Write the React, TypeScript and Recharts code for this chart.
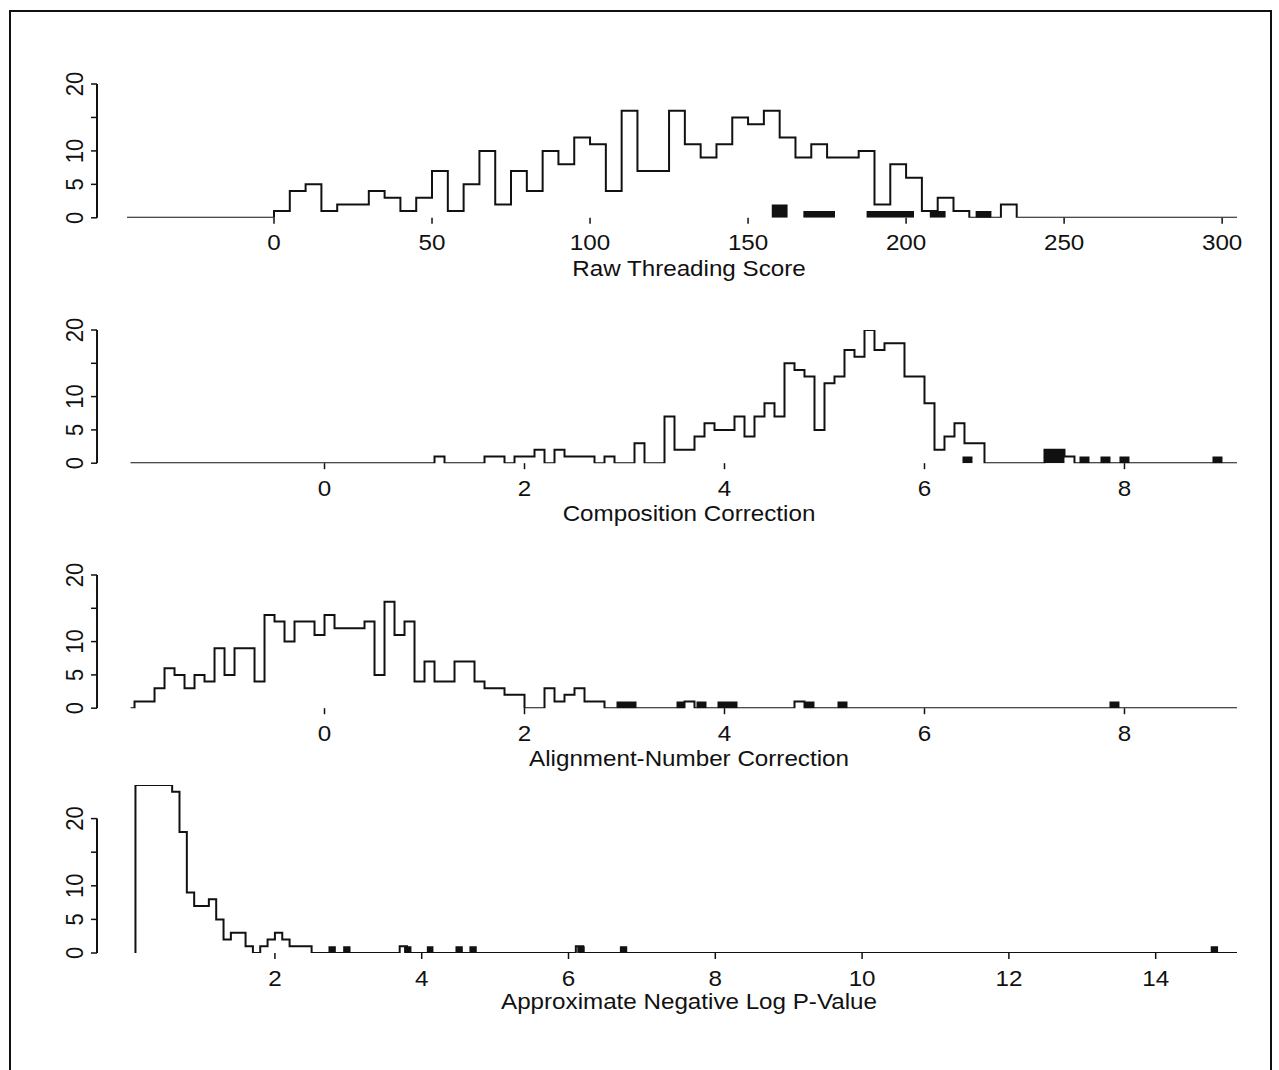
import React from 'react';
import { ComposedChart, Line, Area, XAxis, YAxis, ReferenceLine } from 'recharts';

// ---------- DATA ----------
// Panel 1: Raw Threading Score (bins of width 5 starting at 0)
const RAW_BIN_START = 0;
const RAW_BIN_WIDTH = 5;
const RAW_COUNTS = [1, 4, 5, 1, 2, 2, 4, 3, 1, 3, 7, 1, 5, 10, 2, 7, 4, 10, 8, 12, 11, 4, 16, 7, 7, 16, 11, 9, 11, 15, 14, 16, 12, 9, 11, 9, 9, 10, 2, 8, 6, 1, 3, 1, 0, 0, 2];
const RAW_BLACK = [[157.5, 162.5, 2], [167.5, 177.5, 1], [187.5, 202.5, 1], [207.5, 212.5, 1], [222, 227, 1]];
const RAW_TICKS = [0, 50, 100, 150, 200, 250, 300];

// Panel 2: Composition Correction (bins of width 0.1 starting at 1.1)
const COMP_BIN_START = 1.1;
const COMP_BIN_WIDTH = 0.1;
const COMP_COUNTS = [1, 0, 0, 0, 0, 1, 1, 0, 1, 1, 2, 0, 2, 1, 1, 1, 0, 1, 0, 0, 3, 0, 0, 7, 2, 2, 4, 6, 5, 5, 7, 4, 7, 9, 7, 15, 14, 13, 5, 12, 13, 17, 16, 20, 17, 18, 18, 13, 13, 9, 2, 4, 6, 3, 3, 0, 0, 0, 0, 0, 0, 2, 2, 1];
const COMP_BLACK = [[6.38, 6.48, 1], [7.2, 7.4, 2], [7.55, 7.65, 1], [7.76, 7.86, 1], [7.95, 8.05, 1], [8.88, 8.98, 1]];
const COMP_TICKS = [0, 2, 4, 6, 8];

// Panel 3: Alignment-Number Correction (bins of width 0.1 starting at -1.9)
const ALIGN_BIN_START = -1.9;
const ALIGN_BIN_WIDTH = 0.1;
const ALIGN_COUNTS = [1, 1, 3, 6, 5, 3, 5, 4, 9, 5, 9, 9, 4, 14, 13, 10, 13, 13, 11, 14, 12, 12, 12, 13, 5, 16, 11, 13, 4, 7, 4, 4, 7, 7, 4, 3, 3, 2, 2, 0, 0, 3, 1, 2, 3, 1, 1, 0, 0, 0, 0, 0, 0, 0, 0, 1, 0, 0, 0, 0, 0, 0, 0, 0, 0, 0, 1];
const ALIGN_BLACK = [[2.92, 3.12, 1], [3.52, 3.6, 1], [3.72, 3.82, 1], [3.93, 4.13, 1], [4.8, 4.9, 1], [5.13, 5.23, 1], [7.85, 7.95, 1]];
const ALIGN_TICKS = [0, 2, 4, 6, 8];

// Panel 4: Approximate Negative Log P-Value (bins of width 0.1 starting at 0.1)
const PVAL_BIN_START = 0.1;
const PVAL_BIN_WIDTH = 0.1;
const PVAL_COUNTS = [25, 25, 25, 25, 25, 24, 18, 9, 7, 7, 8, 5, 2, 3, 3, 1, 0, 1, 2, 3, 2, 1, 1, 1, 0, 0, 0, 0, 0, 0, 0, 0, 0, 0, 0, 0, 1, 0, 0, 0, 0, 0, 0, 0, 0, 0, 0, 0, 0, 0, 0, 0, 0, 0, 0, 0, 0, 0, 0, 0, 1];
const PVAL_BLACK = [[2.73, 2.83, 1], [2.93, 3.03, 1], [3.76, 3.86, 1], [4.07, 4.16, 1], [4.46, 4.56, 1], [4.65, 4.75, 1], [6.12, 6.22, 1], [6.7, 6.8, 1], [14.75, 14.85, 1]];
const PVAL_TICKS = [2, 4, 6, 8, 10, 12, 14];

const Y_TICKS = [0, 5, 10, 15, 20];

// ---------- LAYOUT / STYLE ----------
const INK = '#111';
const FONT = '"Liberation Sans", Arial, Helvetica, sans-serif';
const W = 1279;
const MT = 30;
const XH = 80;

const PANELS = [
  { title: 'Raw Threading Score', start: RAW_BIN_START, width: RAW_BIN_WIDTH, counts: RAW_COUNTS, black: RAW_BLACK, ticks: RAW_TICKS,
    domain: [-56.0, 304.7], baseStart: -46.5, zeroY: 218, unitPx: 6.69, ymax: 20, titleOffset: 58 },
  { title: 'Composition Correction', start: COMP_BIN_START, width: COMP_BIN_WIDTH, counts: COMP_COUNTS, black: COMP_BLACK, ticks: COMP_TICKS,
    domain: [-2.275, 9.125], baseStart: -1.94, zeroY: 463.3, unitPx: 6.66, ymax: 20, titleOffset: 58 },
  { title: 'Alignment-Number Correction', start: ALIGN_BIN_START, width: ALIGN_BIN_WIDTH, counts: ALIGN_COUNTS, black: ALIGN_BLACK, ticks: ALIGN_TICKS,
    domain: [-2.275, 9.125], baseStart: -1.94, zeroY: 708.3, unitPx: 6.66, ymax: 20, titleOffset: 58 },
  { title: 'Approximate Negative Log P-Value', start: PVAL_BIN_START, width: PVAL_BIN_WIDTH, counts: PVAL_COUNTS, black: PVAL_BLACK, ticks: PVAL_TICKS,
    domain: [-0.424, 15.108], baseStart: 0.1, zeroY: 952.7, unitPx: 6.72, ymax: 25, titleOffset: 56 },
];

function outlinePoints(start: number, width: number, counts: number[], baseStart: number, end: number) {
  const pts: { x: number; y: number }[] = [{ x: baseStart, y: 0 }];
  counts.forEach((c, i) => pts.push({ x: +(start + i * width).toFixed(4), y: c }));
  pts.push({ x: +(start + counts.length * width).toFixed(4), y: 0 });
  pts.push({ x: end, y: 0 });
  return pts;
}

function blackPoints(bars: number[][]) {
  const pts: { x: number; y: number }[] = [];
  bars.forEach(([x0, x1, c]) => {
    pts.push({ x: x0, y: c });
    pts.push({ x: x1, y: 0 });
  });
  return pts;
}

const XTick = (props: any) => {
  const { x, y, payload } = props;
  return (
    <text transform={`translate(${x},${y}) scale(1.1,1)`} textAnchor="middle" dy="0.71em"
      fontSize={22} fontFamily={FONT} fill={INK}>{payload.value}</text>
  );
};

const YTick = (props: any) => {
  const { x, y, payload } = props;
  if (payload.value === 15) return <g />;
  return (
    <text transform={`translate(${x - 8.5},${y}) scale(1.1,1) rotate(-90)`} textAnchor="middle"
      fontSize={22} fontFamily={FONT} fill={INK}>{payload.value}</text>
  );
};

function Panel({ p }: { p: any }) {
  const plotH = p.ymax * p.unitPx;
  const top = p.zeroY - plotH - MT;
  const H = MT + plotH + XH;
  const outline = outlinePoints(p.start, p.width, p.counts, p.baseStart, p.domain[1]);
  const black = blackPoints(p.black);
  const titleY = MT + plotH + p.titleOffset;
  return (
    <div style={{ position: 'absolute', left: 0, top, width: W, height: H }}>
      <ComposedChart width={W} height={H} margin={{ top: MT, right: 42, bottom: 0, left: 37 }}>
        <XAxis type="number" dataKey="x" domain={p.domain} allowDataOverflow ticks={p.ticks} interval={0}
          axisLine={false} tickLine={{ stroke: INK, strokeWidth: 1.5 }} tickSize={6} tickMargin={11} height={XH}
          tick={(tp: any) => <XTick {...tp} />}
          label={() => (
            <text transform={`translate(689,${titleY}) scale(1.1,1)`} textAnchor="middle" fontSize={22}
              fontFamily={FONT} fill={INK}>{p.title}</text>
          )} />
        <YAxis type="number" domain={[0, p.ymax]} allowDataOverflow ticks={Y_TICKS} interval={0} width={60}
          axisLine={false} tickLine={{ stroke: INK, strokeWidth: 1.5 }} tickSize={6} tickMargin={0}
          tick={(tp: any) => <YTick {...tp} />} />
        <ReferenceLine segment={[{ x: p.domain[0], y: 0 }, { x: p.domain[0], y: 20 }]} stroke={INK}
          strokeWidth={2} ifOverflow="visible" />
        <Area data={black} dataKey="y" type="stepAfter" stroke="none" fill={INK} fillOpacity={1}
          isAnimationActive={false} />
        <Line data={outline} dataKey="y" type="stepAfter" stroke={INK} strokeWidth={2} dot={false}
          activeDot={false} isAnimationActive={false} />
      </ComposedChart>
    </div>
  );
}

export default function App() {
  return (
    <div style={{ position: 'absolute', left: 0, top: 0, width: W, height: 1070, overflow: 'hidden', background: '#fff' }}>
      <div style={{ position: 'absolute', left: 9, top: 10, width: 1259, height: 1100, border: `2px solid ${INK}` }} />
      {PANELS.map((p) => <Panel key={p.title} p={p} />)}
    </div>
  );
}
